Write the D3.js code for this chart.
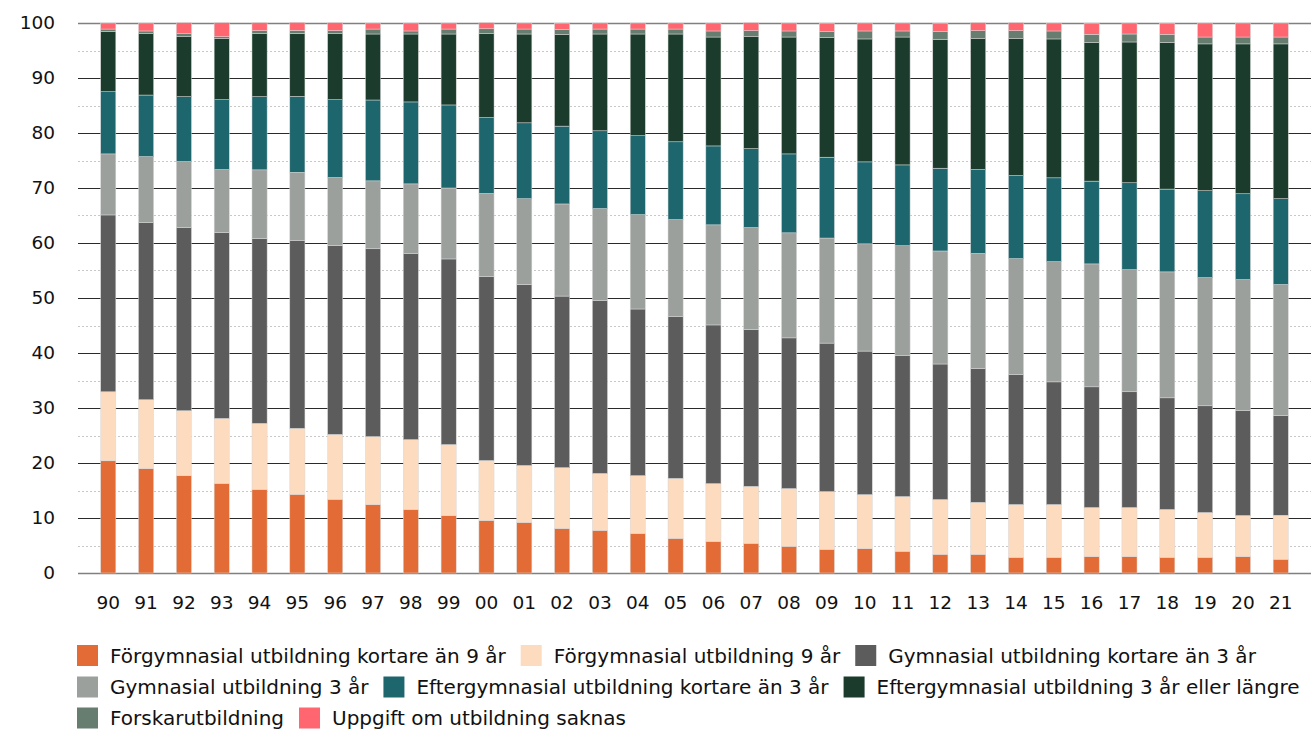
<!DOCTYPE html>
<html>
<head>
<meta charset="utf-8">
<script src="https://cdn.jsdelivr.net/npm/d3@7"></script>
<style>
  body { margin: 0; background: #fff; }
  svg { font-family: "DejaVu Sans", sans-serif; }
</style>
</head>
<body>
<div id="chart"></div>
<script>
// years on the x axis
const years = ['90','91','92','93','94','95','96','97','98','99','00','01','02','03','04','05',
               '06','07','08','09','10','11','12','13','14','15','16','17','18','19','20','21'];

// one array per education level (percent)
const kortare9 = [20.4,19.0,17.7,16.3,15.2,14.3,13.4,12.45,11.55,10.45,9.55,9.2,8.1,7.75,7.2,6.3,
                  5.75,5.4,4.85,4.3,4.45,3.95,3.4,3.4,2.85,2.85,3.0,3.0,2.85,2.85,3.0,2.5];
const forgym9 = [12.55,12.5,11.8,11.8,12.0,12.0,11.8,12.35,12.7,12.9,10.9,10.35,11.05,10.35,10.5,10.9,
                 10.5,10.35,10.5,10.5,9.8,9.95,9.95,9.45,9.6,9.6,8.9,8.9,8.7,8.15,7.45,8.0];
const gymKort = [32.15,32.2,33.3,33.8,33.6,34.2,34.35,34.15,33.8,33.75,33.45,32.9,31.2,31.4,30.3,29.4,
                 28.85,28.5,27.4,27.0,26.1,25.6,24.65,24.3,23.6,22.3,21.95,21.05,20.3,19.4,19.05,18.15];
const gym3 = [11.1,12.0,12.0,11.45,12.5,12.35,12.35,12.35,12.7,12.9,15.1,15.6,16.75,16.75,17.15,17.65,
              18.2,18.55,19.1,19.1,19.5,20.0,20.55,20.95,21.1,21.85,22.35,22.2,22.9,23.3,23.85,23.8];
const eftKort = [11.3,11.2,11.8,12.7,13.3,13.8,14.15,14.7,14.9,15.1,13.8,13.8,14.15,14.15,14.35,14.15,
                 14.35,14.35,14.35,14.7,14.9,14.7,15.05,15.25,15.1,15.25,15.05,15.8,15.05,15.8,15.6,15.6];
const eft3 = [11.0,11.15,10.9,11.1,11.45,11.45,12.0,12.0,12.35,12.9,15.25,16.15,16.7,17.6,18.5,19.6,
              19.8,20.35,21.25,21.8,22.35,23.25,23.45,23.8,24.9,25.25,25.25,25.6,26.7,26.7,27.25,28.15];
const forskar = [0.4,0.5,0.55,0.35,0.55,0.55,0.55,0.9,0.55,0.9,0.9,0.9,0.9,0.9,0.9,0.9,
                 1.1,1.1,1.1,1.1,1.45,1.1,1.45,1.45,1.45,1.45,1.45,1.45,1.45,1.25,1.25,1.25];
const saknas = [1.1,1.45,2.0,2.55,1.45,1.45,1.45,1.1,1.45,1.1,1.1,1.1,1.1,1.1,1.1,1.1,
                1.45,1.45,1.45,1.45,1.45,1.45,1.45,1.45,1.45,1.45,2.0,2.0,2.0,2.55,2.55,2.55];

const seriesNames = ['Förgymnasial utbildning kortare än 9 år', 'Förgymnasial utbildning 9 år',
  'Gymnasial utbildning kortare än 3 år', 'Gymnasial utbildning 3 år',
  'Eftergymnasial utbildning kortare än 3 år', 'Eftergymnasial utbildning 3 år eller längre',
  'Forskarutbildning', 'Uppgift om utbildning saknas'];
const seriesValues = [kortare9, forgym9, gymKort, gym3, eftKort, eft3, forskar, saknas];
const colors = ['#e36c36','#fddbbf','#5c5c5c','#9ba09d','#1e666d','#1b3c2c','#677d6f','#ff6670'];
const legendRows = [[0, 1, 2], [3, 4, 5], [6, 7]];

const yTicks = [0,10,20,30,40,50,60,70,80,90,100];

const width = 1316, height = 729;
const svg = d3.select('#chart').append('svg')
  .attr('width', width).attr('height', height);

const x = d3.scaleBand().domain(years).range([78, 1311]).paddingInner(0.6).paddingOuter(0.6);
const y = d3.scaleLinear().domain([0, 100]).range([573, 23]);

// gridlines: dotted at 5s, solid at 10s
const grid = svg.append('g');
grid.selectAll('line.minor')
  .data(d3.range(5, 100, 10))
  .join('line').attr('class', 'minor')
  .attr('x1', 78).attr('x2', 1311)
  .attr('y1', d => Math.round(y(d)) + 0.5).attr('y2', d => Math.round(y(d)) + 0.5)
  .attr('stroke', '#c8c8c8').attr('stroke-width', 1).attr('stroke-dasharray', '2,2');
grid.selectAll('line.major')
  .data(yTicks)
  .join('line').attr('class', 'major')
  .attr('x1', 78).attr('x2', 1311)
  .attr('y1', d => Math.round(y(d)) + 0.5).attr('y2', d => Math.round(y(d)) + 0.5)
  .attr('stroke', d => (d === 0 || d === 100) ? '#808080' : '#2a2a2a')
  .attr('stroke-width', d => (d === 0 || d === 100) ? 1.5 : 1);

// stacked bars
const table = years.map((yr, i) => {
  const row = { year: yr };
  seriesNames.forEach((n, k) => row[n] = seriesValues[k][i]);
  return row;
});
const stacked = d3.stack().keys(seriesNames)(table);

svg.append('g').selectAll('g')
  .data(stacked)
  .join('g')
  .attr('fill', (d, i) => colors[i])
  .selectAll('rect')
  .data(d => d)
  .join('rect')
  .attr('x', d => x(d.data.year))
  .attr('width', x.bandwidth())
  .attr('y', d => y(d[1]))
  .attr('height', d => y(d[0]) - y(d[1]))
  .attr('stroke', '#d8d8d8').attr('stroke-width', 0.5);

// y labels
svg.append('g').selectAll('text')
  .data(yTicks)
  .join('text')
  .attr('x', 55).attr('y', d => y(d))
  .attr('dy', '0.35em')
  .attr('text-anchor', 'end')
  .attr('font-size', 18.5).attr('fill', '#111')
  .text(d => d);

// x labels
svg.append('g').selectAll('text')
  .data(years)
  .join('text')
  .attr('x', d => x(d) + x.bandwidth() / 2)
  .attr('y', 603).attr('dy', '0.35em')
  .attr('text-anchor', 'middle')
  .attr('font-size', 18.5).attr('fill', '#111')
  .text(d => d);

// legend, fixed rows as in the original
const legend = svg.append('g');
const rowY = [655.5, 687, 718];
legendRows.forEach((items, r) => {
  let lx = 77;
  items.forEach(i => {
    const item = legend.append('g').attr('transform', `translate(${lx},${rowY[r]})`);
    item.append('rect').attr('width', 21).attr('height', 21).attr('y', -10.5).attr('fill', colors[i]);
    const t = item.append('text').attr('x', 33).attr('dy', '0.35em')
      .attr('font-size', 20).attr('fill', '#111').text(seriesNames[i]);
    lx += 33 + t.node().getComputedTextLength() + 15;
  });
});
</script>
</body>
</html>
